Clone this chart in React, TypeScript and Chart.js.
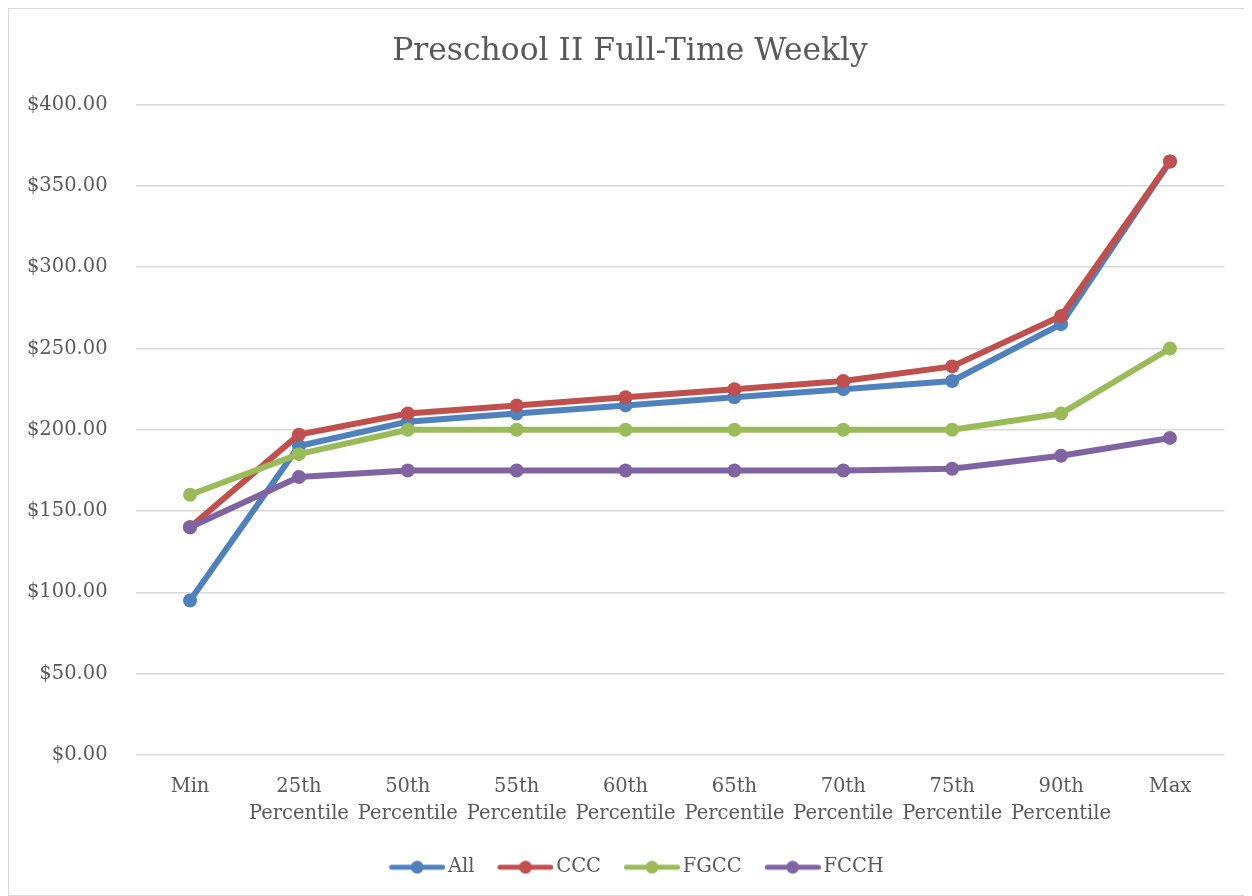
import React, { useEffect, useRef } from "react";
import { Chart, registerables } from "chart.js";

Chart.register(...registerables);

const categories: (string | string[])[] = [
  "Min",
  ["25th", "Percentile"],
  ["50th", "Percentile"],
  ["55th", "Percentile"],
  ["60th", "Percentile"],
  ["65th", "Percentile"],
  ["70th", "Percentile"],
  ["75th", "Percentile"],
  ["90th", "Percentile"],
  "Max",
];

const allValues = [95, 190, 205, 210, 215, 220, 225, 230, 265, 365];
const cccValues = [140, 197, 210, 215, 220, 225, 230, 239, 270, 365];
const fgccValues = [160, 185, 200, 200, 200, 200, 200, 200, 210, 250];
const fcchValues = [140, 171, 175, 175, 175, 175, 175, 176, 184, 195];

const seriesNames = ["All", "CCC", "FGCC", "FCCH"];
const seriesColors = ["#4f81bd", "#c0504d", "#9bbb59", "#8064a2"];

const yTicks = [0, 50, 100, 150, 200, 250, 300, 350, 400];

const FONT = "'DejaVu Serif', serif";
const TEXT = "#595959";

// legend icon: transparent 20px on the left, visible 56px line+dot on the right
function makeIcon(color: string) {
  const c = document.createElement("canvas");
  c.width = 76;
  c.height = 14;
  const ctx = c.getContext("2d")!;
  ctx.strokeStyle = color;
  ctx.lineWidth = 5;
  ctx.lineCap = "round";
  ctx.beginPath();
  ctx.moveTo(22.5, 7);
  ctx.lineTo(73.5, 7);
  ctx.stroke();
  ctx.fillStyle = color;
  ctx.beginPath();
  ctx.arc(48, 7, 6.5, 0, Math.PI * 2);
  ctx.fill();
  return c;
}

export default function App() {
  const ref = useRef<HTMLCanvasElement>(null);

  useEffect(() => {
    if (!ref.current) return;
    const values = [allValues, cccValues, fgccValues, fcchValues];
    const icons = seriesColors.map(makeIcon);
    const chart = new Chart(ref.current, {
      type: "line",
      data: {
        labels: categories,
        datasets: values.map((v, i) => ({
          label: seriesNames[i],
          data: v,
          order: values.length - 1 - i,
          borderColor: seriesColors[i],
          backgroundColor: seriesColors[i],
          borderWidth: 6,
          pointRadius: 7,
          pointHoverRadius: 7,
          pointBorderWidth: 0,
          tension: 0,
        })),
      },
      options: {
        animation: false,
        responsive: false,
        layout: { padding: { left: 0, right: 0, top: 0, bottom: 8 } },
        scales: {
          x: {
            offset: true,
            grid: { display: false, drawTicks: false, offset: true },
            border: { display: false },
            ticks: {
              color: TEXT,
              font: { family: FONT, size: 19.5, lineHeight: 1.4 },
              maxRotation: 0,
              autoSkip: false,
              padding: 18,
            },
            afterFit: (scale: any) => {
              scale.height += 2;
            },
          },
          y: {
            min: 0,
            max: 400,
            afterBuildTicks: (axis: any) => {
              axis.ticks = yTicks.map((v) => ({ value: v }));
            },
            grid: { color: "#d9d9d9", lineWidth: 1.5, drawTicks: false },
            border: { display: false },
            ticks: {
              color: TEXT,
              font: { family: FONT, size: 19.5 },
              padding: 28,
              callback: (v: any) => "$" + Number(v).toFixed(2),
            },
            afterFit: (scale: any) => {
              scale.width = 126.6;
            },
          },
          yRight: {
            type: "linear",
            position: "right",
            display: true,
            grid: { display: false, drawTicks: false },
            border: { display: false },
            ticks: { display: false },
            afterFit: (scale: any) => {
              scale.width = 26.6;
            },
          },
        },
        plugins: {
          title: {
            display: true,
            text: "Preschool II Full-Time Weekly",
            color: TEXT,
            font: { family: FONT, size: 31.4, weight: "normal" },
            padding: { top: 24, bottom: 34 },
          },
          legend: {
            position: "bottom",
            labels: {
              usePointStyle: true,
              pointStyleWidth: 62,
              color: TEXT,
              font: { family: FONT, size: 19.5 },
              padding: 10,
              sort: (a: any, b: any) => a.datasetIndex - b.datasetIndex,
              generateLabels: (ch: any) =>
                Chart.defaults.plugins.legend.labels
                  .generateLabels(ch)
                  .map((l: any) => ({ ...l, pointStyle: icons[l.datasetIndex] })),
            },
          },
          tooltip: { enabled: false },
        },
      },
    });
    return () => chart.destroy();
  }, []);

  return (
    <div
      style={{
        width: 1244,
        height: 888,
        border: "1px solid #d9d9d9",
        boxSizing: "border-box",
        background: "#fff",
      }}
    >
      <canvas ref={ref} width={1242} height={886} style={{ display: "block" }} />
    </div>
  );
}
